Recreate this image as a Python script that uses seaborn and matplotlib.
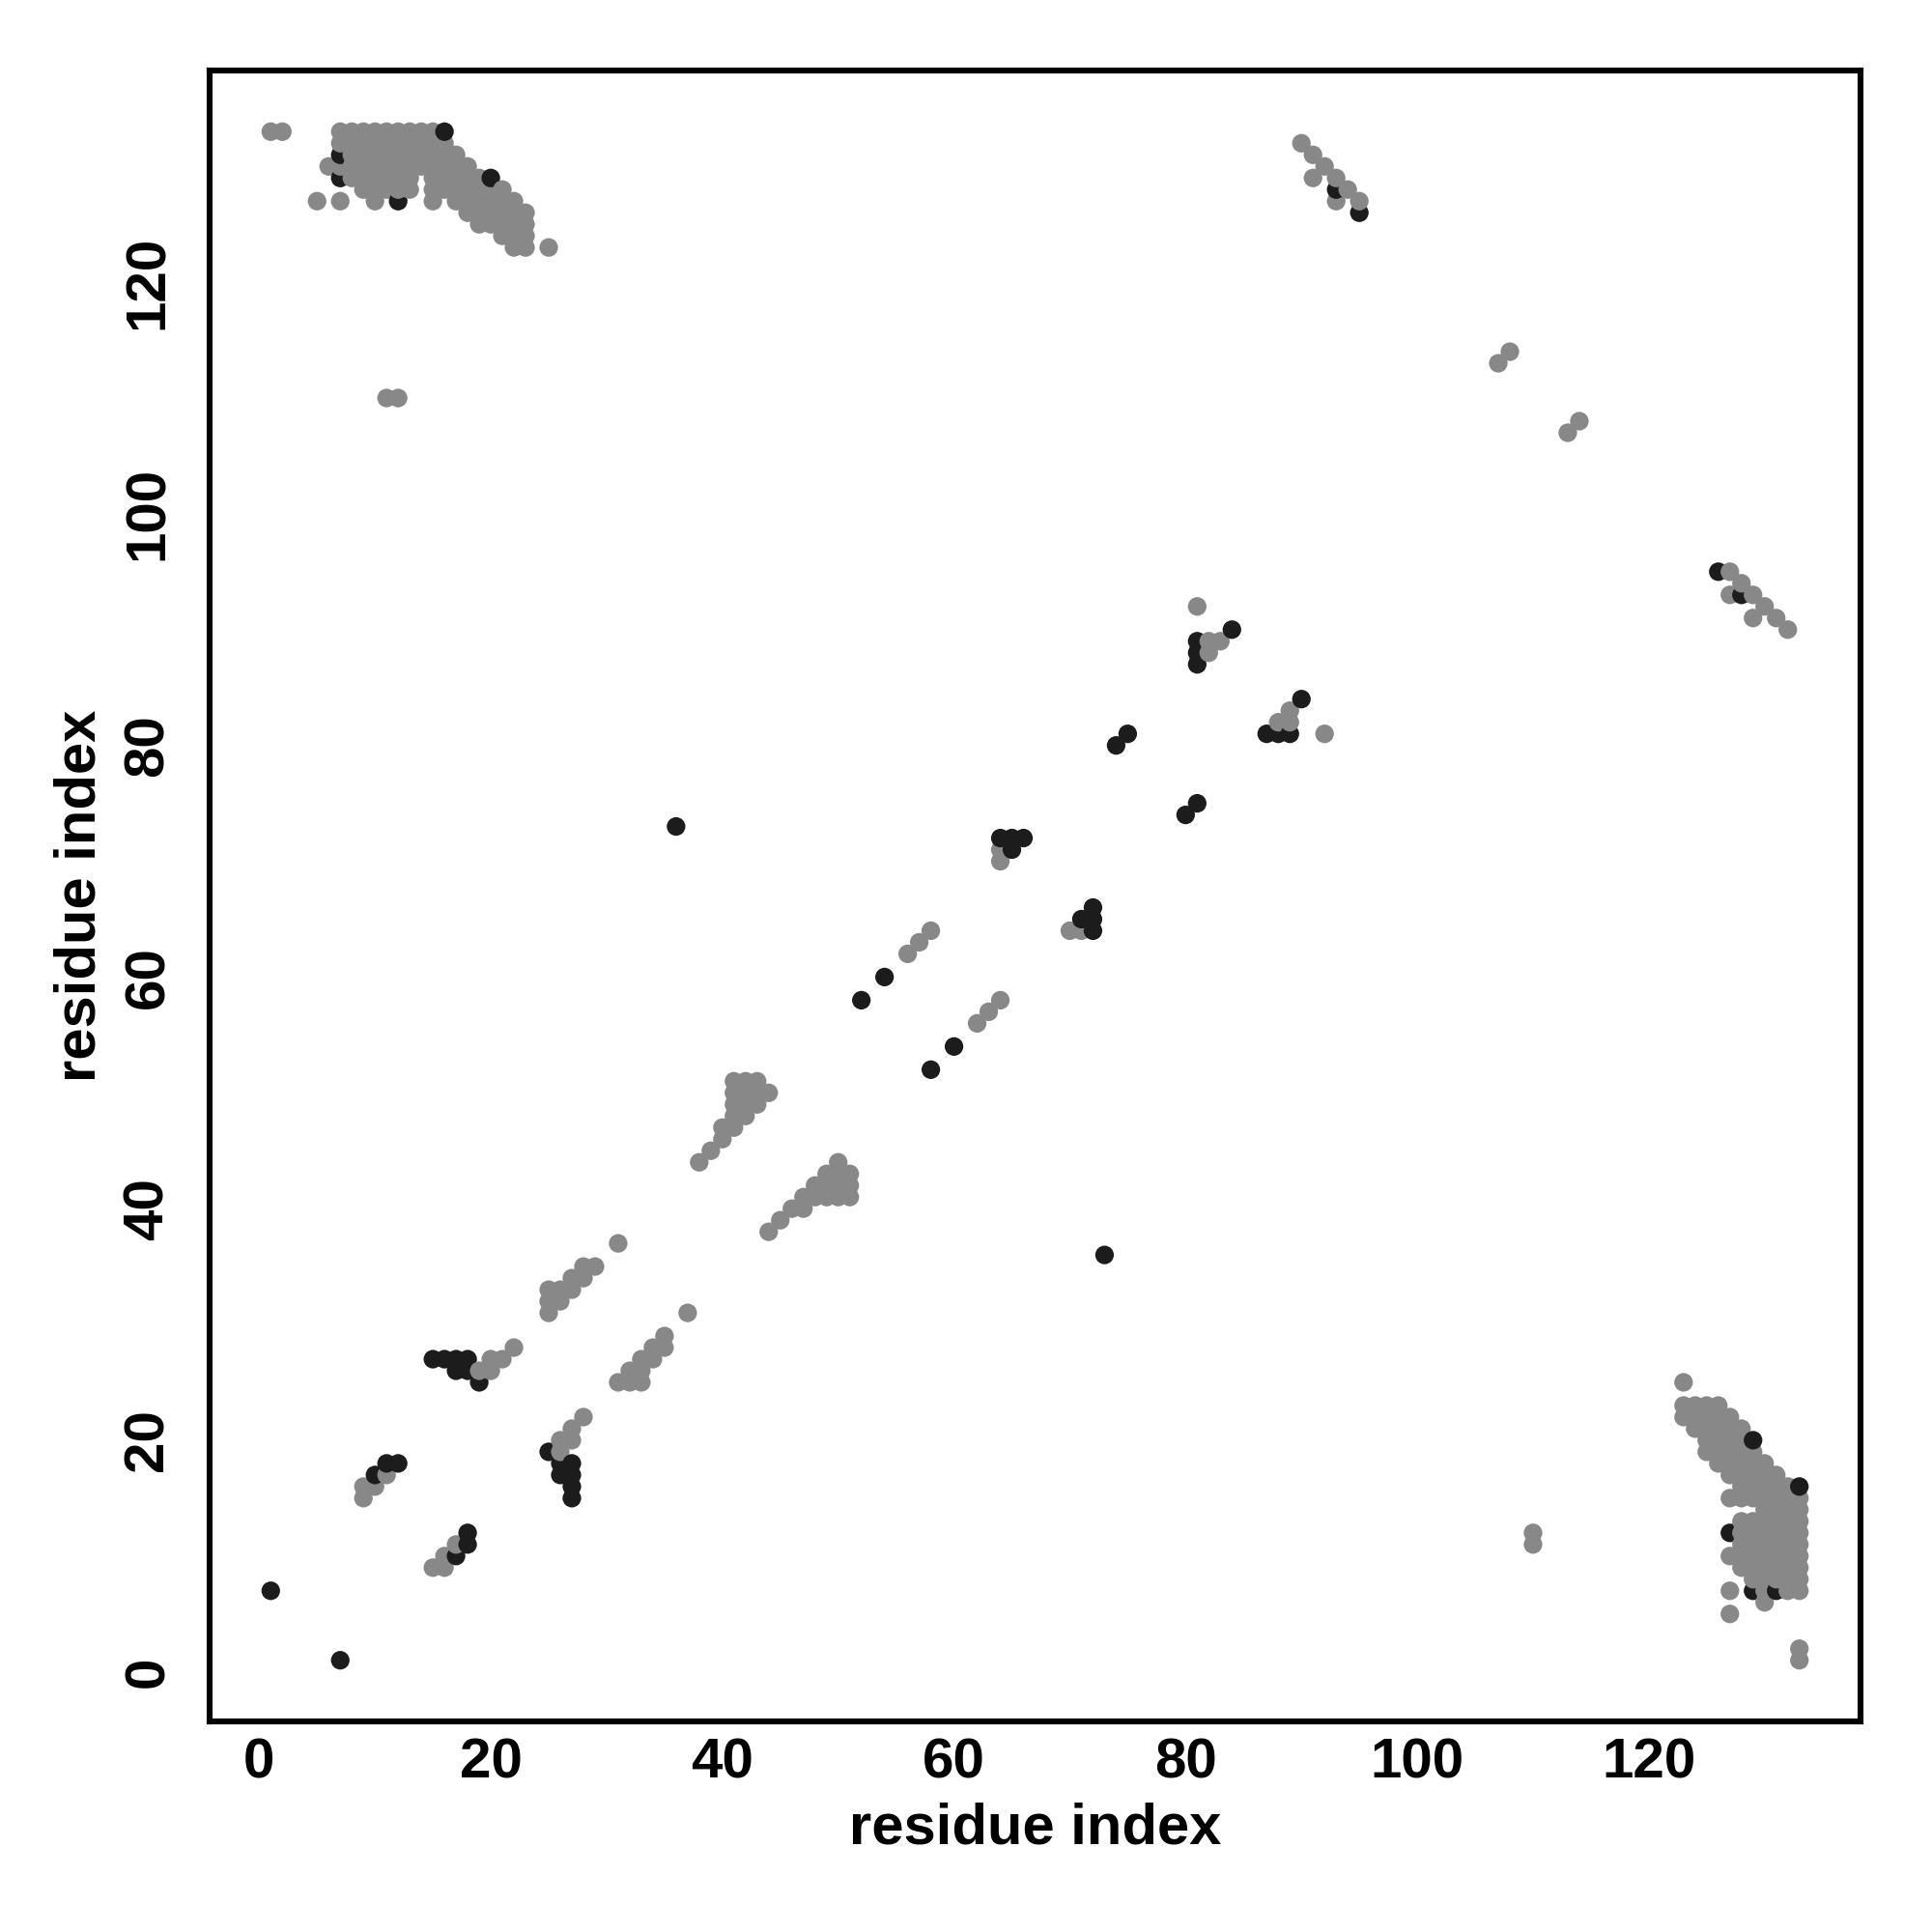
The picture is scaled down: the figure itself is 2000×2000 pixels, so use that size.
import matplotlib
matplotlib.use("Agg")
import matplotlib.pyplot as plt
import seaborn as sns
import pandas as pd

# contacts in the upper triangle (i < j); the map is symmetric, so the
# lower triangle is the same set with i and j swapped
# grey = predicted contacts, black = second set
grey_i = [1, 2, 7, 8, 9, 10, 11, 12, 13, 14, 15,
          7, 8, 9, 10, 11, 12, 13, 14, 15, 16,
          8, 9, 10, 11, 12, 13, 14, 15, 16, 17,
          6, 7, 8, 9, 10, 11, 12, 13, 14, 15, 16, 17, 18,
          8, 9, 10, 11, 12, 13, 15, 16, 17, 18, 19,
          9, 10, 11, 12, 13, 15, 16, 17, 18, 19, 20, 21,
          5, 7, 10, 15, 17, 18, 19, 20, 21, 22,
          18, 19, 20, 21, 22, 23,
          19, 20, 21, 22, 23,
          21, 22, 23,
          22, 23, 25,
          11, 12,
          9, 9, 10, 11,
          19, 20, 20, 21, 22,
          25, 25, 25, 26, 26, 27, 27, 28, 28, 29,
          31,
          38, 39, 40, 40, 41, 41, 42, 41, 42, 43, 41, 42, 43, 44, 41, 42, 43,
          56, 57, 58,
          64, 64,
          82, 82, 83, 81,
          90, 91, 92, 91, 93, 94, 93, 95,
          107, 108]
grey_j = [133, 133, 133, 133, 133, 133, 133, 133, 133, 133, 133,
          132, 132, 132, 132, 132, 132, 132, 132, 132, 132,
          131, 131, 131, 131, 131, 131, 131, 131, 131, 131,
          130, 130, 130, 130, 130, 130, 130, 130, 130, 130, 130, 130, 130,
          129, 129, 129, 129, 129, 129, 129, 129, 129, 129, 129,
          128, 128, 128, 128, 128, 128, 128, 128, 128, 128, 128, 128,
          127, 127, 127, 127, 127, 127, 127, 127, 127, 127,
          126, 126, 126, 126, 126, 126,
          125, 125, 125, 125, 125,
          124, 124, 124,
          123, 123, 123,
          110, 110,
          15, 16, 16, 17,
          26, 26, 27, 27, 28,
          31, 32, 33, 32, 33, 33, 34, 34, 35, 35,
          37,
          44, 45, 46, 47, 47, 48, 48, 49, 49, 49, 50, 50, 50, 50, 51, 51, 51,
          62, 63, 64,
          70, 71,
          88, 89, 89, 92,
          132, 131, 130, 129, 129, 128, 127, 127,
          113, 114]

black_i = [1, 7, 7, 16, 20, 12,
           10, 11, 12,
           15, 16, 17, 18, 17, 18, 19,
           36, 52, 54,
           64, 65, 66, 65,
           74, 75,
           81, 81, 81, 84,
           93, 95]
black_j = [7, 131, 129, 133, 129, 127,
           17, 18, 18,
           27, 27, 27, 27, 26, 26, 25,
           73, 58, 60,
           72, 72, 72, 71,
           80, 81,
           87, 88, 89, 90,
           128, 126]

upper = pd.concat([
    pd.DataFrame({"i": grey_i, "j": grey_j, "kind": "grey"}),
    pd.DataFrame({"i": black_i, "j": black_j, "kind": "black"}),
])
lower = upper.rename(columns={"i": "j", "j": "i"})
df = pd.concat([upper, lower]).sort_values(["i", "j"]).reset_index(drop=True)

sns.set_style("white")
plt.rcParams["font.family"] = ["Liberation Sans", "DejaVu Sans"]
plt.rcParams["font.weight"] = "bold"

fig = plt.figure(figsize=(10, 10), dpi=200)
ax = fig.add_axes([0.1085, 0.109, 0.8545, 0.8545])

sns.scatterplot(data=df, x="i", y="j", hue="kind",
                palette={"grey": "#888888", "black": "#1c1c1c"},
                s=48, linewidth=0, legend=False, ax=ax)

lo, hi = 1 - 0.04 * 132, 133 + 0.04 * 132
ax.set_xlim(lo, hi)
ax.set_ylim(lo, hi)
ax.set_xticks(range(0, 121, 20))
ax.set_yticks(range(0, 121, 20))
ax.tick_params(axis="both", direction="out", length=4, width=1.6,
               labelsize=21, pad=2, colors="black")
ax.tick_params(axis="y", pad=9)
for lab in ax.get_yticklabels():
    lab.set_rotation(90)
    lab.set_va("center")
for lab in ax.get_xticklabels() + ax.get_yticklabels():
    lab.set_fontweight("bold")

for sp in ax.spines.values():
    sp.set_visible(True)
    sp.set_color("black")
    sp.set_linewidth(2.2)

ax.set_xlabel("residue index", fontsize=21.5, fontweight="bold",
              color="black", labelpad=4.5)
ax.set_ylabel("residue index", fontsize=21.5, fontweight="bold",
              color="black", labelpad=6)

fig.savefig("out.png", dpi=200, facecolor="white")
